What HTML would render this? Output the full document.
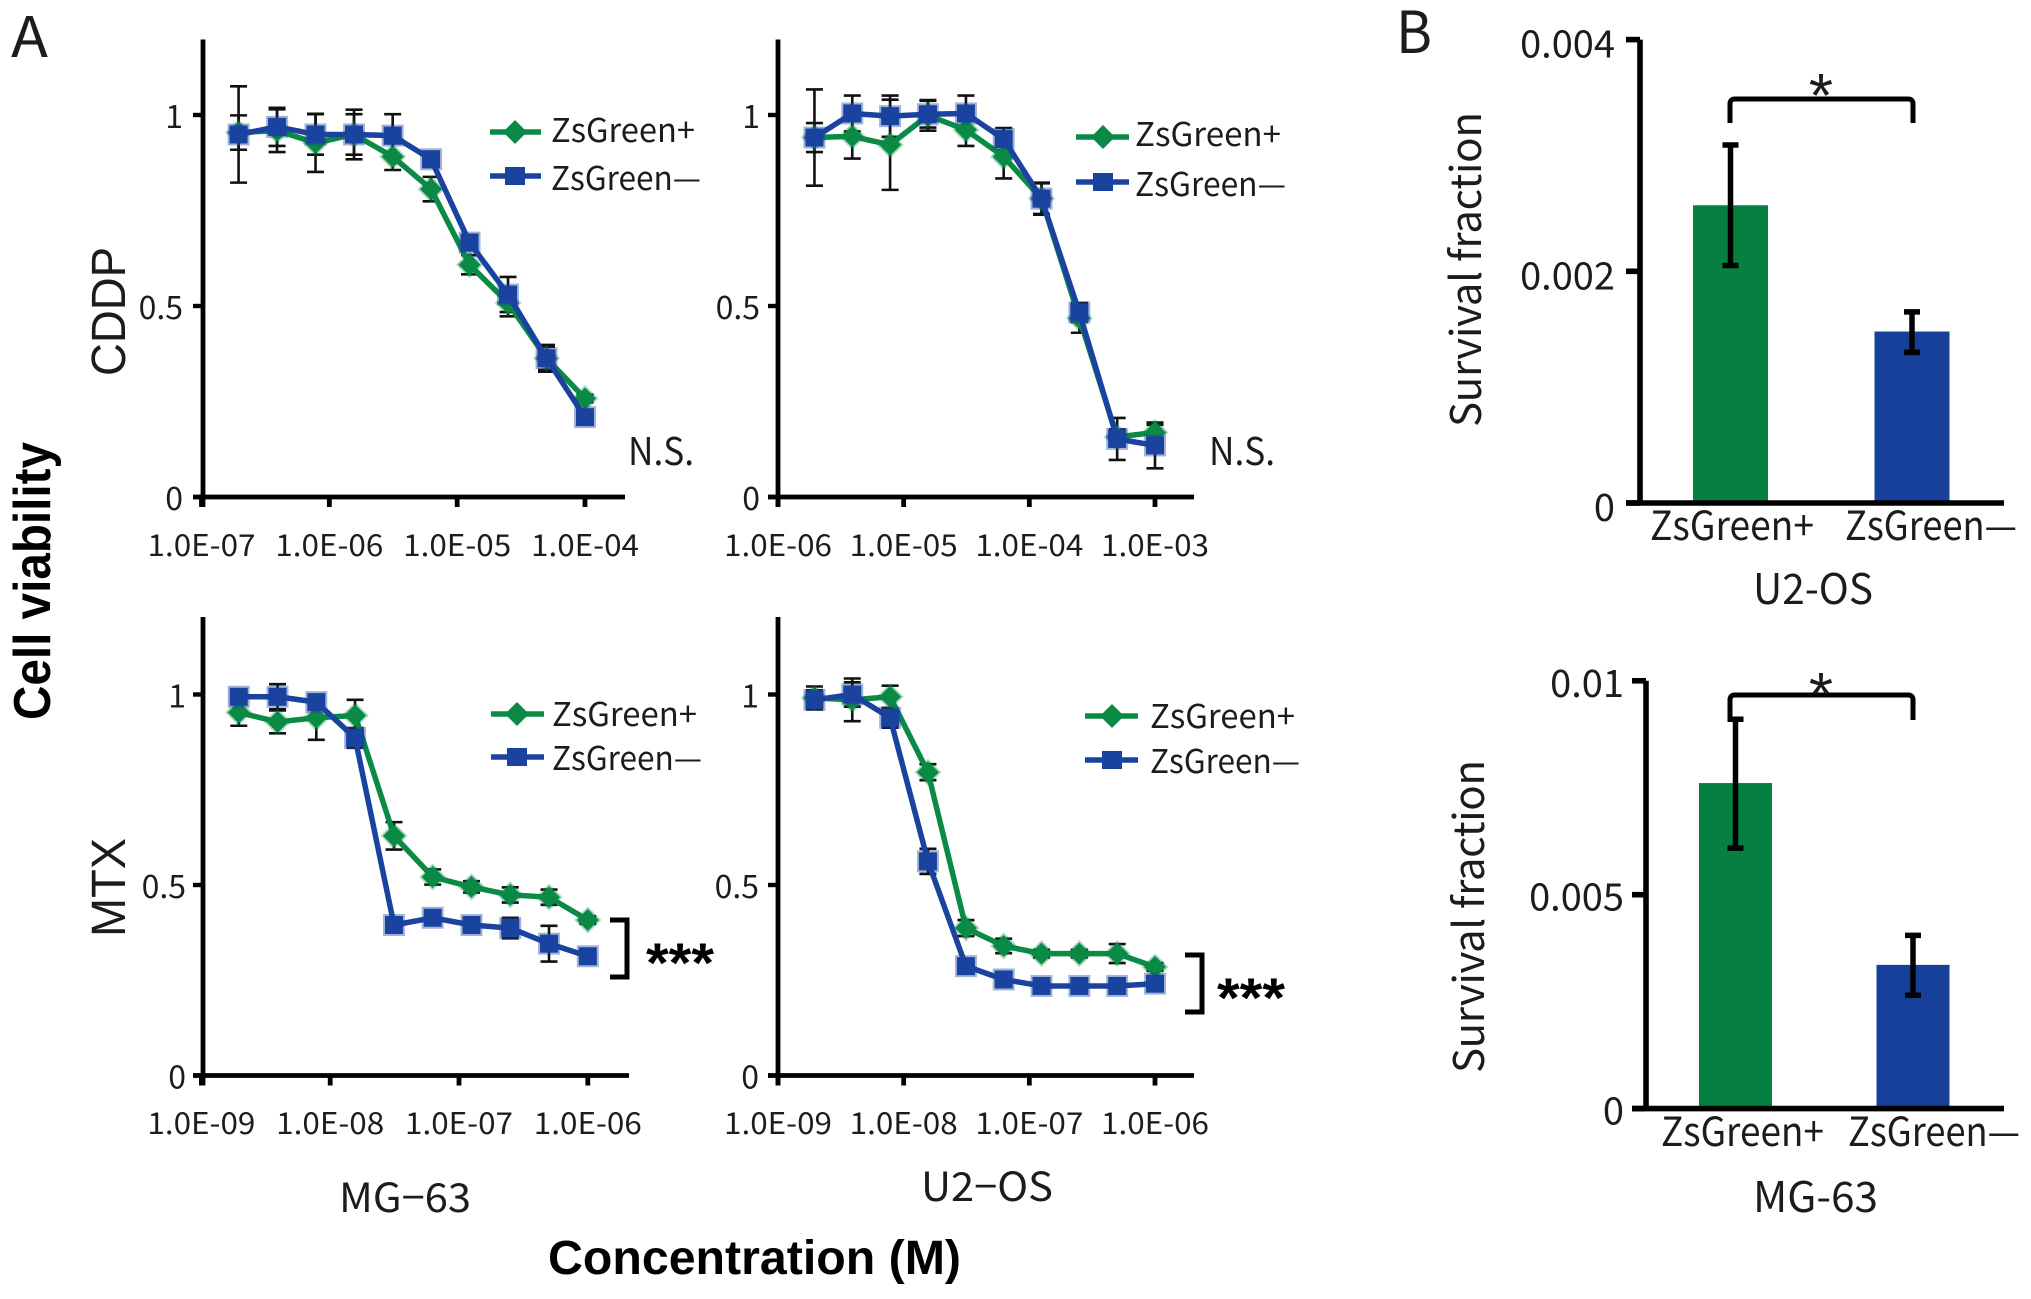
<!DOCTYPE html>
<html lang="en">
<head>
<meta charset="utf-8">
<title>Cell viability and survival fraction</title>
<style>
html,body{margin:0;padding:0;background:#fff}
svg{display:block}
text{font-family:"Noto Sans CJK JP","Liberation Sans",sans-serif;fill:#1c1c1c}
.arial{font-family:"Liberation Sans",sans-serif}
.bold{font-family:"Liberation Sans",sans-serif;font-weight:700;fill:#000}
</style>
</head>
<body>
<svg id="figure" xmlns="http://www.w3.org/2000/svg" width="2031" height="1299" viewBox="0 0 2031 1299">
<rect width="2031" height="1299" fill="#fff"/>

<text x="11" y="57" font-size="56" textLength="37" lengthAdjust="spacingAndGlyphs">A</text>
<text x="1396" y="53" font-size="58" textLength="36" lengthAdjust="spacingAndGlyphs">B</text>

<text class="bold" transform="translate(50,720) rotate(-90)" font-size="52" textLength="278" lengthAdjust="spacingAndGlyphs">Cell viability</text>
<text class="bold" x="548" y="1274" font-size="48" textLength="413" lengthAdjust="spacingAndGlyphs">Concentration (M)</text>

<text class="arial" transform="translate(125,376) rotate(-90)" font-size="48" textLength="129" lengthAdjust="spacingAndGlyphs">CDDP</text>
<text class="arial" transform="translate(125,937) rotate(-90)" font-size="48" textLength="99" lengthAdjust="spacingAndGlyphs">MTX</text>

<text x="339" y="1212" font-size="40" textLength="132" lengthAdjust="spacingAndGlyphs">MG−63</text>
<text x="921" y="1201" font-size="40" textLength="132" lengthAdjust="spacingAndGlyphs">U2−OS</text>

<text x="628" y="465" font-size="38" textLength="66" lengthAdjust="spacingAndGlyphs">N.S.</text>
<text x="1209" y="465" font-size="38" textLength="66" lengthAdjust="spacingAndGlyphs">N.S.</text>

<path d="M610 920H627V977H610" fill="none" stroke="#000" stroke-width="5"/>
<text class="bold" x="646" y="982" font-size="56" textLength="68" lengthAdjust="spacingAndGlyphs">***</text>
<path d="M1185 955H1202V1012H1185" fill="none" stroke="#000" stroke-width="5"/>
<text class="bold" x="1217" y="1017" font-size="56" textLength="68" lengthAdjust="spacingAndGlyphs">***</text>

<g>
  <path d="M490 132H541" stroke="#0a8a45" stroke-width="5.5"/>
  <path d="M515 120l12 12-12 12-12-12z" fill="#0a8a45"/>
  <text x="551" y="142" font-size="33" textLength="144" lengthAdjust="spacingAndGlyphs">ZsGreen+</text>
  <path d="M490 176H541" stroke="#1a439f" stroke-width="5.5"/>
  <rect x="505" y="167" width="20" height="18" fill="#1a439f"/>
  <text x="551" y="190" font-size="33" textLength="150" lengthAdjust="spacingAndGlyphs">ZsGreen—</text>
</g>
<g>
  <path d="M1076 137H1129" stroke="#0a8a45" stroke-width="5.5"/>
  <path d="M1103 125l12 12-12 12-12-12z" fill="#0a8a45"/>
  <text x="1135" y="146" font-size="33" textLength="146" lengthAdjust="spacingAndGlyphs">ZsGreen+</text>
  <path d="M1076 182H1129" stroke="#1a439f" stroke-width="5.5"/>
  <rect x="1093" y="173" width="20" height="18" fill="#1a439f"/>
  <text x="1135" y="196" font-size="33" textLength="151" lengthAdjust="spacingAndGlyphs">ZsGreen—</text>
</g>
<g>
  <path d="M491 714H544" stroke="#0a8a45" stroke-width="5.5"/>
  <path d="M517 702l12 12-12 12-12-12z" fill="#0a8a45"/>
  <text x="552" y="726" font-size="33" textLength="145" lengthAdjust="spacingAndGlyphs">ZsGreen+</text>
  <path d="M491 757H544" stroke="#1a439f" stroke-width="5.5"/>
  <rect x="507" y="748" width="20" height="18" fill="#1a439f"/>
  <text x="552" y="770" font-size="33" textLength="150" lengthAdjust="spacingAndGlyphs">ZsGreen—</text>
</g>
<g>
  <path d="M1085 716H1138" stroke="#0a8a45" stroke-width="5.5"/>
  <path d="M1112 704l12 12-12 12-12-12z" fill="#0a8a45"/>
  <text x="1150" y="728" font-size="33" textLength="145" lengthAdjust="spacingAndGlyphs">ZsGreen+</text>
  <path d="M1085 760H1138" stroke="#1a439f" stroke-width="5.5"/>
  <rect x="1102" y="751" width="20" height="18" fill="#1a439f"/>
  <text x="1150" y="773" font-size="33" textLength="150" lengthAdjust="spacingAndGlyphs">ZsGreen—</text>
</g>

<g id="line-charts"></g>
<g id="bar-charts"></g>

<text transform="translate(1481,427) rotate(-90)" font-size="42" textLength="315" lengthAdjust="spacing">Survival fraction</text>
<text transform="translate(1484,1073) rotate(-90)" font-size="42" textLength="313" lengthAdjust="spacing">Survival fraction</text>

<path d="M1730 123V104q0-5 5-5H1908q5 0 5 5V123" fill="none" stroke="#000" stroke-width="5"/>
<text class="arial" x="1821" y="117" font-size="62" text-anchor="middle">*</text>
<path d="M1730 720V700q0-5 5-5H1908q5 0 5 5V720" fill="none" stroke="#000" stroke-width="5"/>
<text class="arial" x="1821" y="716" font-size="62" text-anchor="middle">*</text>

<text x="1753" y="604" font-size="42" textLength="120" lengthAdjust="spacingAndGlyphs">U2-OS</text>
<text x="1753" y="1212" font-size="42" textLength="125" lengthAdjust="spacingAndGlyphs">MG-63</text>
</svg>

<script>
// ---- Panel A doses (M)
const dosesCddpMg = [1.95e-7, 3.9e-7, 7.8e-7, 1.56e-6, 3.13e-6, 6.25e-6, 1.25e-5, 2.5e-5, 5e-5, 1e-4];
const dosesCddpU2 = [1.95e-6, 3.9e-6, 7.8e-6, 1.56e-5, 3.13e-5, 6.25e-5, 1.25e-4, 2.5e-4, 5e-4, 1e-3];
const dosesMtx = [1.95e-9, 3.9e-9, 7.8e-9, 1.56e-8, 3.13e-8, 6.25e-8, 1.25e-7, 2.5e-7, 5e-7, 1e-6];

// ---- CDDP / MG-63
const cddpMgGreen = [0.954, 0.959, 0.927, 0.949, 0.891, 0.806, 0.608, 0.508, 0.363, 0.258];
const cddpMgGreenErr = [0.045, 0.056, 0.076, 0.053, 0.035, 0.032, 0.025, 0.035, 0.03, 0.01];
const cddpMgBlue = [0.949, 0.969, 0.949, 0.949, 0.946, 0.884, 0.666, 0.53, 0.363, 0.209];
const cddpMgBlueErr = [0.126, 0.05, 0.053, 0.065, 0.056, 0.02, 0.02, 0.046, 0.035, 0.01];
// ---- CDDP / U2-OS
const cddpU2Green = [0.941, 0.944, 0.922, 0.999, 0.961, 0.891, 0.781, 0.468, 0.157, 0.169];
const cddpU2GreenErr = [0.038, 0.058, 0.118, 0.04, 0.042, 0.057, 0.042, 0.038, 0.02, 0.02];
const cddpU2Blue = [0.941, 1.004, 0.997, 1.002, 1.004, 0.937, 0.781, 0.483, 0.152, 0.135];
const cddpU2BlueErr = [0.126, 0.047, 0.054, 0.035, 0.047, 0.029, 0.04, 0.025, 0.055, 0.06];
// ---- MTX / MG-63
const mtxMgGreen = [0.953, 0.928, 0.939, 0.945, 0.629, 0.521, 0.495, 0.474, 0.468, 0.408];
const mtxMgGreenErr = [0.035, 0.03, 0.058, 0.041, 0.036, 0.02, 0.015, 0.02, 0.02, 0.01];
const mtxMgBlue = [0.994, 0.994, 0.98, 0.886, 0.395, 0.414, 0.395, 0.387, 0.346, 0.313];
const mtxMgBlueErr = [0.01, 0.033, 0.01, 0.026, 0.01, 0.01, 0.01, 0.027, 0.047, 0.01];
// ---- MTX / U2-OS
const mtxU2Green = [0.991, 0.986, 0.994, 0.796, 0.387, 0.34, 0.32, 0.32, 0.32, 0.285];
const mtxU2GreenErr = [0.03, 0.056, 0.029, 0.021, 0.021, 0.019, 0.01, 0.01, 0.025, 0.01];
const mtxU2Blue = [0.986, 1.0, 0.939, 0.562, 0.287, 0.252, 0.235, 0.235, 0.235, 0.241];
const mtxU2BlueErr = [0.025, 0.032, 0.026, 0.033, 0.01, 0.01, 0.01, 0.01, 0.01, 0.01];

// ---- Tick labels
const viabilityTicks = ["0", "0.5", "1"];
const cddpMgTicks = ["1.0E-07", "1.0E-06", "1.0E-05", "1.0E-04"];
const cddpU2Ticks = ["1.0E-06", "1.0E-05", "1.0E-04", "1.0E-03"];
const mtxTicks = ["1.0E-09", "1.0E-08", "1.0E-07", "1.0E-06"];

// ---- Panel B
const barCategories = ["ZsGreen+", "ZsGreen—"];
const barColors = ["#068040", "#17409a"];
const u2osSurvival = [0.00257, 0.00148];
const u2osErrHigh = [0.00309, 0.00165];
const u2osErrLow = [0.00205, 0.0013];
const u2osTicks = ["0", "0.002", "0.004"];
const mg63Survival = [0.00761, 0.00336];
const mg63ErrHigh = [0.0091, 0.00405];
const mg63ErrLow = [0.00609, 0.00265];
const mg63Ticks = ["0", "0.005", "0.01"];

const NS = "http://www.w3.org/2000/svg";
const GREEN = "#0a8a45", BLUE = "#1a439f";

function make(tag, parent, attrs) {
  const el = document.createElementNS(NS, tag);
  for (const k in attrs) el.setAttribute(k, attrs[k]);
  parent.appendChild(el);
  return el;
}

function drawSeries(g, xs, ys, errs, xScale, yScale, color, shape) {
  const pts = xs.map((d, i) => [xScale(d), yScale(ys[i])]);
  const line = make("polyline", g, {
    points: pts.map(p => p.join(",")).join(" "),
    fill: "none", stroke: color, "stroke-width": 5.5, "stroke-linejoin": "round"
  });
  
  
  pts.forEach(p => {
    let m;
    if (shape === "square") {
      m = make("rect", g, { x: p[0] - 9, y: p[1] - 9, width: 18, height: 18, fill: color, stroke: color, "stroke-opacity": 0.4, "stroke-width": 4 });
    } else {
      m = make("path", g, { d: "M" + p[0] + " " + (p[1] - 11) + "l11 11-11 11-11-11z", fill: color, stroke: color, "stroke-opacity": 0.35, "stroke-width": 3.5 });
    }
    
    
  });
}

function drawErrors(g, xs, ys, errs, xScale, yScale) {
  xs.forEach((d, i) => {
    const x = xScale(d), t = yScale(ys[i] + errs[i]), b = yScale(ys[i] - errs[i]);
    const e = make("path", g, {
      d: "M" + x + " " + t + "V" + b + "M" + (x - 8.5) + " " + t + "h17M" + (x - 8.5) + " " + b + "h17",
      fill: "none", stroke: "#111", "stroke-width": 2.6
    });
    
    
  });
}

function lineChart(c) {
  const root = document.getElementById("line-charts");
  const g = make("g", root, {});
  
  
  const logMin = Math.log10(Number(c.ticks[0]));
  const logMax = Math.log10(Number(c.ticks[3]));
  const xScale = d => c.x0 + (Math.log10(d) - logMin) / (logMax - logMin) * (c.x1 - c.x0);
  const yScale = v => c.y0 + (c.yOne - c.y0) * v;

  const yAxis = make("path", g, { d: "M" + c.axisX + " " + c.top + "V" + (c.y0 + 10), stroke: "#000", "stroke-width": 4.8, fill: "none" });
  
  
  const xAxis = make("path", g, { d: "M" + (c.axisX - 10) + " " + c.y0 + "H" + c.axisEnd, stroke: "#000", "stroke-width": 4.8, fill: "none" });
  
  

  viabilityTicks.forEach(t => {
    const v = Number(t);
    const tick = make("path", g, { d: "M" + (c.axisX - 10) + " " + yScale(v) + "H" + c.axisX, stroke: "#000", "stroke-width": 4.4 });
    
    
    const label = make("text", g, { x: c.yLabelX, y: yScale(v) + c.yLabelDy, "font-size": 32, "text-anchor": "end" });
    
    
    label.textContent = t;
  });

  c.ticks.forEach(t => {
    const x = xScale(Number(t));
    const tick = make("path", g, { d: "M" + x + " " + c.y0 + "V" + (c.y0 + 10), stroke: "#000", "stroke-width": 4.8 });
    
    
    const label = make("text", g, { x: x - 54, y: c.xLabelY, "font-size": 30, textLength: 108, lengthAdjust: "spacingAndGlyphs" });
    
    
    label.textContent = t;
  });

  drawErrors(g, c.doses, c.green, c.greenErr, xScale, yScale);
  drawErrors(g, c.doses, c.blue, c.blueErr, xScale, yScale);
  drawSeries(g, c.doses, c.green, c.greenErr, xScale, yScale, GREEN, "diamond");
  drawSeries(g, c.doses, c.blue, c.blueErr, xScale, yScale, BLUE, "square");
}

lineChart({ doses: dosesCddpMg, green: cddpMgGreen, greenErr: cddpMgGreenErr, blue: cddpMgBlue, blueErr: cddpMgBlueErr, ticks: cddpMgTicks,
  x0: 201.5, x1: 585, axisX: 203, axisEnd: 625, top: 39.5, y0: 497, yOne: 115, yLabelX: 183, yLabelDy: 13, xLabelY: 556 });
lineChart({ doses: dosesCddpU2, green: cddpU2Green, greenErr: cddpU2GreenErr, blue: cddpU2Blue, blueErr: cddpU2BlueErr, ticks: cddpU2Ticks,
  x0: 778, x1: 1155, axisX: 778, axisEnd: 1194, top: 39.5, y0: 497, yOne: 115, yLabelX: 760, yLabelDy: 13, xLabelY: 556 });
lineChart({ doses: dosesMtx, green: mtxMgGreen, greenErr: mtxMgGreenErr, blue: mtxMgBlue, blueErr: mtxMgBlueErr, ticks: mtxTicks,
  x0: 201.4, x1: 587.8, axisX: 203, axisEnd: 629, top: 617, y0: 1075.5, yOne: 694.5, yLabelX: 186, yLabelDy: 13, xLabelY: 1134 });
lineChart({ doses: dosesMtx, green: mtxU2Green, greenErr: mtxU2GreenErr, blue: mtxU2Blue, blueErr: mtxU2BlueErr, ticks: mtxTicks,
  x0: 778, x1: 1155, axisX: 778, axisEnd: 1194, top: 617, y0: 1075.5, yOne: 694.5, yLabelX: 759, yLabelDy: 13, xLabelY: 1134 });

function barChart(c) {
  const root = document.getElementById("bar-charts");
  const g = make("g", root, {});
  
  
  const max = Number(c.ticks[c.ticks.length - 1]);
  const yScale = v => c.y0 + (c.top - c.y0) * (v / max);
  const xBand = i => c.firstCenter + i * c.bandStep;

  barCategories.forEach((cat, i) => {
    const top = yScale(c.values[i]);
    const bar = make("rect", g, { x: xBand(i) - c.barW / 2, y: top, width: c.barW, height: c.y0 - top, fill: barColors[i] });
    
    
  });
  barCategories.forEach((cat, i) => {
    const x = xBand(i), t = yScale(c.high[i]), b = yScale(c.low[i]);
    const e = make("path", g, { d: "M" + x + " " + t + "V" + b + "M" + (x - 8) + " " + t + "h16M" + (x - 8) + " " + b + "h16", fill: "none", stroke: "#000", "stroke-width": 5.5 });
    
    
    const label = make("text", g, { x: c.catX[i], y: c.catY, "font-size": 40, textLength: c.catW[i], lengthAdjust: "spacingAndGlyphs" });
    
    
    label.textContent = cat;
  });

  const yAxis = make("path", g, { d: "M" + c.axisX + " " + c.top + "V" + c.y0, stroke: "#000", "stroke-width": 5.6, fill: "none" });
  
  
  const xAxis = make("path", g, { d: "M" + (c.axisX - 14) + " " + c.y0 + "H2004", stroke: "#000", "stroke-width": 5.6, fill: "none" });
  
  

  c.ticks.forEach(t => {
    const y = yScale(Number(t));
    const tick = make("path", g, { d: "M" + (c.axisX - 14) + " " + y + "H" + c.axisX, stroke: "#000", "stroke-width": 5.6 });
    
    
    const label = make("text", g, { x: c.labelX, y: y + c.labelDy, "font-size": 38, "text-anchor": "end" });
    
    
    label.textContent = t;
  });
}

barChart({ values: u2osSurvival, high: u2osErrHigh, low: u2osErrLow, ticks: u2osTicks,
  axisX: 1640, top: 39.6, y0: 503, firstCenter: 1730.5, bandStep: 181.5, barW: 75,
  labelX: 1615, labelDy: 18, catX: [1650, 1845], catW: [164, 172], catY: 540 });
barChart({ values: mg63Survival, high: mg63ErrHigh, low: mg63ErrLow, ticks: mg63Ticks,
  axisX: 1646, top: 680.8, y0: 1108.6, firstCenter: 1735.5, bandStep: 177.5, barW: 73,
  labelX: 1624, labelDy: 16, catX: [1661, 1848], catW: [163, 172], catY: 1146 });
</script>
</body>
</html>
